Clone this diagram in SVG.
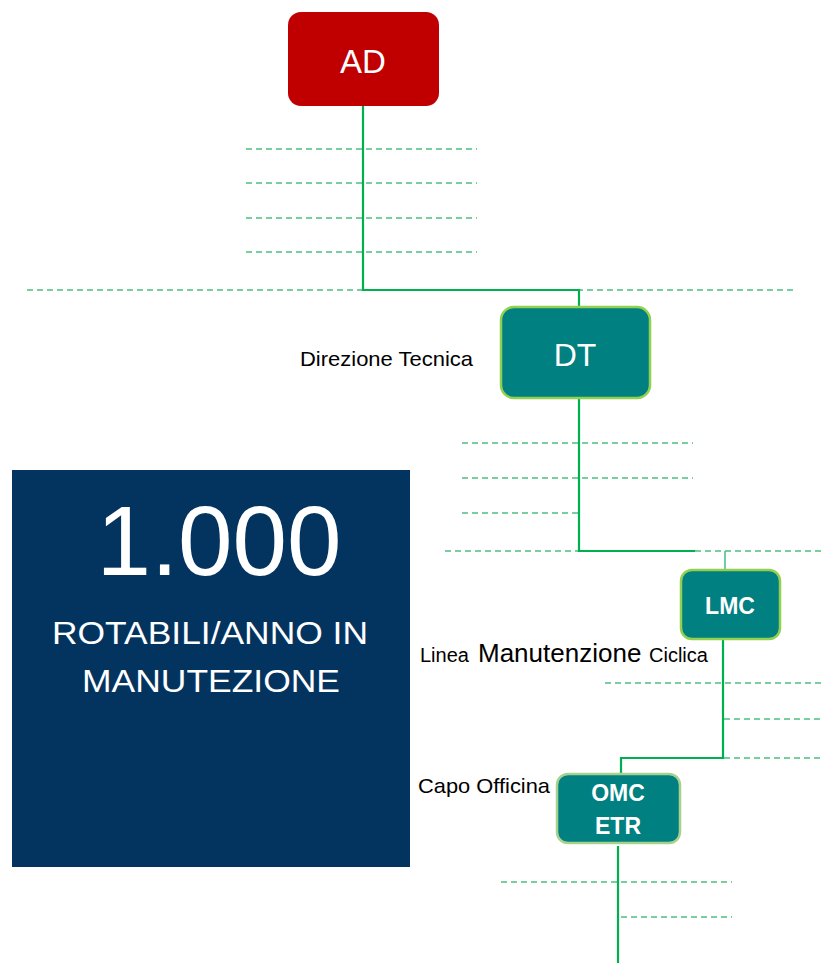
<svg xmlns="http://www.w3.org/2000/svg" width="821" height="963" viewBox="0 0 821 963">
<style>
.conn{fill:none;stroke:#00B050;stroke-width:2.2}
.dash{fill:none;stroke:#2DB36A;stroke-width:1.5;stroke-dasharray:6 4;opacity:0.85}
.teal{fill:#008080;stroke:#92D050;stroke-width:2.5}
.lbl{font-family:"Liberation Sans",Arial,sans-serif;fill:#000}
.wt{font-family:"Liberation Sans",Arial,sans-serif;fill:#fff;text-anchor:middle}
.bold{font-weight:bold}
</style>
<rect width="821" height="963" fill="#fff"/>
<g id="guides">
<line class="dash" x1="246" y1="149" x2="477" y2="149"/>
<line class="dash" x1="246" y1="183" x2="477" y2="183"/>
<line class="dash" x1="246" y1="218" x2="477" y2="218"/>
<line class="dash" x1="246" y1="252" x2="477" y2="252"/>
<line class="dash" x1="27" y1="290" x2="793" y2="290"/>
<line class="dash" x1="462" y1="443" x2="693" y2="443"/>
<line class="dash" x1="462" y1="478" x2="693" y2="478"/>
<line class="dash" x1="462" y1="513" x2="579" y2="513"/>
<line class="dash" x1="445" y1="551" x2="821" y2="551"/>
<line class="dash" x1="605" y1="683" x2="821" y2="683"/>
<line class="dash" x1="724" y1="719" x2="821" y2="719"/>
<line class="dash" x1="724" y1="758" x2="821" y2="758"/>
<line class="dash" x1="501" y1="882" x2="732" y2="882"/>
<line class="dash" x1="621" y1="917" x2="732" y2="917"/>
</g>
<g id="connectors">
<polyline class="conn" points="363,106 363,290 579,290 579,307"/>
<polyline class="conn" points="579,398 579,551 695,551"/>
<line x1="725" y1="551" x2="725" y2="570" stroke="#4CC38A" stroke-width="1.6"/>
<polyline class="conn" points="723,640 723,758 621,758 621,774"/>
<line class="conn" x1="618" y1="846" x2="618" y2="963"/>
</g>
<g id="stat">
<rect x="12" y="470" width="398" height="397" fill="#03345F"/>
<text class="wt" x="219" y="575" font-size="98">1.000</text>
<text class="wt" x="210" y="644" font-size="32" textLength="316" lengthAdjust="spacingAndGlyphs">ROTABILI/ANNO IN</text>
<text class="wt" x="211" y="692" font-size="32" textLength="258" lengthAdjust="spacingAndGlyphs">MANUTEZIONE</text>
</g>
<g id="AD">
<rect x="288" y="12" width="151" height="94" rx="13" fill="#C00000"/>
<text class="wt" x="363" y="73" font-size="33">AD</text>
</g>
<g id="DT">
<rect class="teal" x="501" y="307" width="149" height="91" rx="13"/>
<text class="wt" x="575" y="366" font-size="32">DT</text>
<text class="lbl" x="300" y="366" font-size="21" textLength="173" lengthAdjust="spacingAndGlyphs">Direzione Tecnica</text>
</g>
<g id="LMC">
<rect class="teal" x="681" y="570" width="99" height="69" rx="11"/>
<text class="wt bold" x="730" y="614" font-size="23">LMC</text>
<text class="lbl" y="662"><tspan x="420" font-size="20">Linea</tspan><tspan x="478" font-size="26">Manutenzione</tspan><tspan x="649" font-size="20">Ciclica</tspan></text>
</g>
<g id="OMC">
<rect x="557" y="774" width="123" height="69" rx="11" fill="#008080" stroke="#A9D18E" stroke-width="2.5"/>
<text class="wt bold" x="618" y="801" font-size="23">OMC</text>
<text class="wt bold" x="618" y="834" font-size="23">ETR</text>
<text class="lbl" x="418" y="793" font-size="21" textLength="132" lengthAdjust="spacingAndGlyphs">Capo Officina</text>
</g>
</svg>
